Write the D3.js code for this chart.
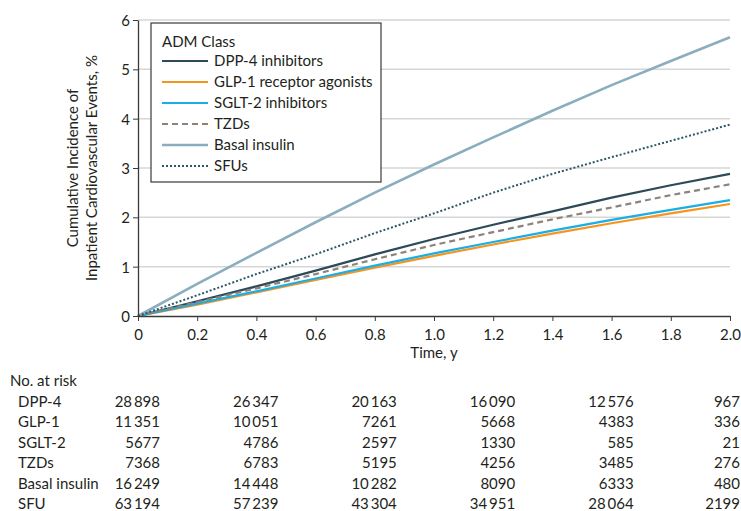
<!DOCTYPE html>
<html>
<meta charset="utf-8">
<head>
<style>
body { margin: 0; background: #fff; }
svg text { font-family: Lato, "Open Sans", sans-serif; fill: #231f20; }
.grid line { stroke: #d6d6d6; stroke-width: 1.5px; }
.axis path, .axis line { stroke: #3a3a3a; }
.axis text { font-size: 15px; }
</style>
</head>
<body>
<script src="https://cdnjs.cloudflare.com/ajax/libs/d3/7.8.5/d3.min.js"></script>
<script>

// time points (years) and cumulative incidence (%)
var times = [0, 0.2, 0.4, 0.6, 0.8, 1.0, 1.2, 1.4, 1.6, 1.8, 2.0];
var dpp4   = [0, 0.30, 0.60, 0.92, 1.25, 1.56, 1.85, 2.12, 2.40, 2.65, 2.88];
var glp1   = [0, 0.23, 0.48, 0.73, 0.98, 1.22, 1.45, 1.67, 1.88, 2.08, 2.27];
var sglt2  = [0, 0.25, 0.50, 0.76, 1.02, 1.27, 1.50, 1.73, 1.95, 2.15, 2.35];
var tzds   = [0, 0.28, 0.56, 0.85, 1.15, 1.44, 1.70, 1.96, 2.20, 2.45, 2.67];
var basal  = [0, 0.65, 1.28, 1.90, 2.50, 3.07, 3.62, 4.16, 4.68, 5.17, 5.65];
var sfu    = [0, 0.42, 0.85, 1.25, 1.68, 2.08, 2.50, 2.88, 3.22, 3.55, 3.88];

var legendNames = ["DPP-4 inhibitors", "GLP-1 receptor agonists", "SGLT-2 inhibitors",
                   "TZDs", "Basal insulin", "SFUs"];
var colors = ["#2c4a57", "#f7941d", "#1aaee6", "#8d837a", "#8aaebe", "#2e5668"];
var dashes = [null, null, null, "6,4", null, "2,2"];
var widths = [2.2, 2.2, 2.2, 2.2, 2.6, 2];

// number at risk table
var riskTimes = [0, 0.4, 0.8, 1.2, 1.6, 2.0];
var riskLabels = ["DPP-4", "GLP-1", "SGLT-2", "TZDs", "Basal insulin", "SFU"];
var riskDpp4  = ["28\u2009898", "26\u2009347", "20\u2009163", "16\u2009090", "12\u2009576", "967"];
var riskGlp1  = ["11\u2009351", "10\u2009051", "7261", "5668", "4383", "336"];
var riskSglt2 = ["5677", "4786", "2597", "1330", "585", "21"];
var riskTzds  = ["7368", "6783", "5195", "4256", "3485", "276"];
var riskBasal = ["16\u2009249", "14\u2009448", "10\u2009282", "8090", "6333", "480"];
var riskSfu   = ["63\u2009194", "57\u2009239", "43\u2009304", "34\u2009951", "28\u2009064", "2199"];

var xTicks = [0, 0.2, 0.4, 0.6, 0.8, 1.0, 1.2, 1.4, 1.6, 1.8, 2.0];
var yTicks = [0, 1, 2, 3, 4, 5, 6];

var series = [dpp4, glp1, sglt2, tzds, basal, sfu];
var riskRows = [riskDpp4, riskGlp1, riskSglt2, riskTzds, riskBasal, riskSfu];

var W = 741, H = 511;
var margin = {top: 20, right: 11, bottom: 195, left: 138};
var width = W - margin.left - margin.right,
    height = H - margin.top - margin.bottom;

var svg = d3.select("body").append("svg")
    .attr("width", W)
    .attr("height", H);

var g = svg.append("g")
    .attr("transform", "translate(" + margin.left + "," + margin.top + ")");

var x = d3.scaleLinear().domain([0, 2]).range([0, width]);
var y = d3.scaleLinear().domain([0, 6]).range([height, 0]);

// gridlines
g.append("g").attr("class", "grid")
  .selectAll("line")
  .data(yTicks.slice(1)).enter()
  .append("line")
    .attr("x1", 0).attr("x2", width)
    .attr("y1", d => y(d)).attr("y2", d => y(d));

// lines
var line = d3.line()
    .x((d, i) => x(times[i]))
    .y(d => y(d));

g.append("g")
  .selectAll("path")
  .data(series).enter()
  .append("path")
    .attr("fill", "none")
    .attr("stroke", (d, i) => colors[i])
    .attr("stroke-width", (d, i) => widths[i])
    .attr("stroke-dasharray", (d, i) => dashes[i])
    .attr("d", d => line(d));

// axes
g.append("g").attr("class", "axis")
    .attr("transform", "translate(0," + height + ")")
    .call(d3.axisBottom(x).tickValues(xTicks).tickSizeInner(5).tickSizeOuter(0)
      .tickFormat(d => d === 0 ? "0" : d3.format(".1f")(d)))
    .call(a => a.selectAll("text").attr("dy", "1.05em"));

g.append("g").attr("class", "axis")
    .call(d3.axisLeft(y).tickValues(yTicks).tickSizeInner(5).tickSizeOuter(0)
      .tickFormat(d3.format("d")))
    .call(a => a.selectAll("text").attr("dy", "0.36em"));

g.selectAll(".axis path").attr("stroke-width", 1.3);

// axis titles
g.append("text")
    .attr("x", width / 2)
    .attr("y", height + 42)
    .attr("text-anchor", "middle")
    .style("font-size", "15px")
    .text("Time, y");

var yTitle = g.append("text")
    .attr("transform", "translate(-60," + (height / 2) + ") rotate(-90)")
    .attr("text-anchor", "middle")
    .style("font-size", "15px");
yTitle.append("tspan").attr("x", 0).attr("y", 0).text("Cumulative Incidence of");
yTitle.append("tspan").attr("x", 0).attr("y", 19).text("Inpatient Cardiovascular Events, %");

// legend
var lg = svg.append("g").attr("transform", "translate(151,23)");
lg.append("rect")
    .attr("width", 230).attr("height", 159)
    .attr("fill", "#fff")
    .attr("stroke", "#3a3a3a")
    .attr("stroke-width", 1.2);
lg.append("text").attr("x", 11).attr("y", 24)
    .style("font-size", "15px").text("ADM Class");
var items = lg.selectAll(".item")
  .data(legendNames).enter()
  .append("g")
    .attr("transform", (d, i) => "translate(11," + (38 + i * 21) + ")");
items.append("line")
    .attr("x1", 0).attr("x2", 46)
    .attr("stroke", (d, i) => colors[i])
    .attr("stroke-width", (d, i) => widths[i])
    .attr("stroke-dasharray", (d, i) => dashes[i]);
items.append("text")
    .attr("x", 52).attr("dy", "0.35em")
    .style("font-size", "15px")
    .text(d => d);

// at-risk table
svg.append("text").attr("x", 10).attr("y", 386)
    .style("font-size", "15px").text("No. at risk");
var rows = svg.selectAll(".riskrow")
  .data(riskRows).enter()
  .append("g")
    .attr("transform", (d, i) => "translate(0," + (407 + i * 20.4) + ")");
rows.append("text")
    .attr("x", 18)
    .style("font-size", "15px")
    .text((d, i) => riskLabels[i]);
rows.selectAll(".num")
  .data(d => d).enter()
  .append("text")
    .attr("x", (d, j) => j === riskTimes.length - 1 ? W - 1 : margin.left + x(riskTimes[j]) + 22)
    .attr("text-anchor", "end")
    .style("font-size", "15px")
    .text(d => d);

</script>
</body>
</html>
